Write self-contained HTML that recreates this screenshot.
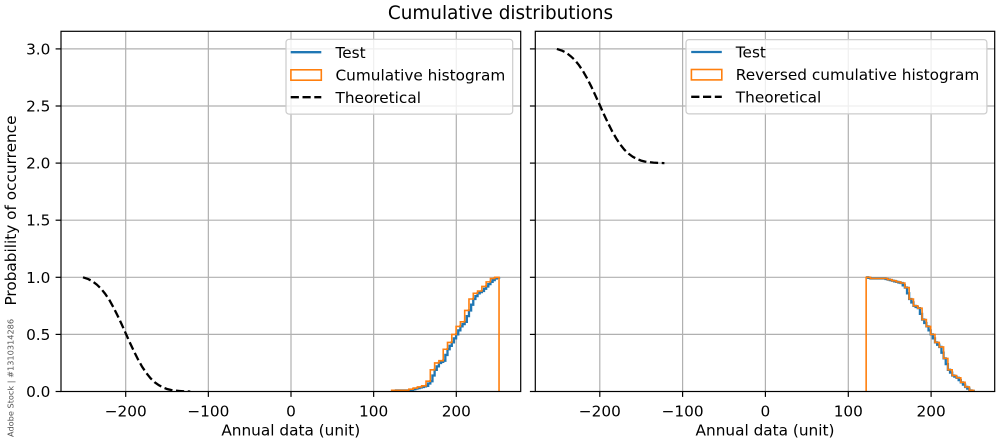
<!DOCTYPE html>
<html>
<head>
<meta charset="utf-8">
<style>
  html, body { margin:0; padding:0; background:#ffffff; }
  svg { display:block; }
  text { font-family: "DejaVu Sans", "Liberation Sans", sans-serif; fill:#000; }
</style>
</head>
<body>
<svg width="1000" height="444" viewBox="0 0 1000 444" xmlns="http://www.w3.org/2000/svg">
  <defs>
    <clipPath id="cl"><rect x="61" y="31.3" width="459.7" height="360.2"/></clipPath>
    <clipPath id="cr"><rect x="535.3" y="31.3" width="459.4" height="360.2"/></clipPath>
  </defs>

  <!-- Title -->
  <text x="500.5" y="18.8" font-size="18.4" text-anchor="middle">Cumulative distributions</text>

  <!-- ================= LEFT AXES ================= -->
  <g stroke="#b0b0b0" stroke-width="1.2" fill="none">
    <line x1="125.7" y1="31.3" x2="125.7" y2="391.5"/>
    <line x1="208.35" y1="31.3" x2="208.35" y2="391.5"/>
    <line x1="291" y1="31.3" x2="291" y2="391.5"/>
    <line x1="373.65" y1="31.3" x2="373.65" y2="391.5"/>
    <line x1="456.3" y1="31.3" x2="456.3" y2="391.5"/>
    <line x1="61" y1="334.4" x2="520.7" y2="334.4"/>
    <line x1="61" y1="277.3" x2="520.7" y2="277.3"/>
    <line x1="61" y1="220.2" x2="520.7" y2="220.2"/>
    <line x1="61" y1="163.1" x2="520.7" y2="163.1"/>
    <line x1="61" y1="106.0" x2="520.7" y2="106.0"/>
    <line x1="61" y1="48.9" x2="520.7" y2="48.9"/>
  </g>

  <g clip-path="url(#cl)" fill="none">
    <!-- Test (ECDF) -->
    <path stroke="#1f77b4" stroke-width="2.3" stroke-linejoin="miter"
      d="M391.67 391.5 H393.82 V390.93 H395.96 V390.36 H410.99 V389.79 H413.14 V389.22 H415.29 V388.65 H417.44 V388.07 H419.58 V387.50 H421.73 V386.93 H423.88 V386.36 H426.03 V385.79 H428.17 V383.51 H430.32 V381.22 H432.47 V375.51 H434.62 V369.80 H436.76 V366.38 H438.91 V362.95 H441.06 V361.81 H443.21 V360.67 H445.35 V354.96 H447.50 V349.25 H449.65 V345.82 H451.79 V342.39 H453.94 V338.40 H456.09 V334.40 H458.24 V330.40 H460.38 V326.41 H462.53 V324.12 H464.68 V321.84 H466.83 V316.13 H468.97 V310.42 H471.12 V304.71 H473.27 V299.00 H475.42 V296.14 H477.56 V293.29 H479.71 V292.15 H481.86 V291.01 H484.01 V288.72 H486.15 V286.44 H488.30 V284.15 H490.45 V281.87 H492.60 V280.16 H494.74 V278.44 H496.89 V277.87 H499.04 V277.30"/>
    <!-- Cumulative histogram -->
    <path stroke="#ff7f0e" stroke-width="1.6"
      d="M391.67 391.5 V390.36 H408.85 V389.22 H413.14 V388.07 H417.44 V386.93 H421.73 V385.79 H426.03 V381.22 H430.32 V369.80 H434.62 V362.95 H438.91 V360.67 H443.21 V349.25 H447.50 V342.39 H451.79 V334.40 H456.09 V326.41 H460.38 V321.84 H464.68 V310.42 H468.97 V299.00 H473.27 V293.29 H477.56 V291.01 H481.86 V286.44 H486.15 V281.87 H490.45 V278.44 H494.74 V277.30 H499.04 V391.5"/>
    <!-- Theoretical -->
    <path stroke="#000" stroke-width="2.3" stroke-dasharray="8.2,3.6"
      d="M83.0 277.3 L88.5 279.2 L92.6 281.4 L96.8 284.6 L100.9 288.5 L105.0 293.6 L109.2 299.7 L113.3 307.1 L117.4 315.2 L121.6 324.1 L125.7 333.3 L129.8 342.5 L134.0 351.4 L138.1 359.6 L142.2 366.9 L146.4 373.1 L150.5 378.2 L154.6 382.2 L158.8 385.2 L162.9 387.4 L167.0 389.0 L171.2 390.0 L175.3 390.6 L179.5 391.0 L183.6 391.3 L190.3 391.5"/>
  </g>

  <!-- left spines -->
  <rect x="61" y="31.3" width="459.7" height="360.2" fill="none" stroke="#000" stroke-width="1.2"/>
  <!-- left ticks -->
  <g stroke="#000" stroke-width="1.2">
    <line x1="125.7" y1="391.5" x2="125.7" y2="396.9"/>
    <line x1="208.35" y1="391.5" x2="208.35" y2="396.9"/>
    <line x1="291" y1="391.5" x2="291" y2="396.9"/>
    <line x1="373.65" y1="391.5" x2="373.65" y2="396.9"/>
    <line x1="456.3" y1="391.5" x2="456.3" y2="396.9"/>
    <line x1="55.6" y1="391.5" x2="61" y2="391.5"/>
    <line x1="55.6" y1="334.4" x2="61" y2="334.4"/>
    <line x1="55.6" y1="277.3" x2="61" y2="277.3"/>
    <line x1="55.6" y1="220.2" x2="61" y2="220.2"/>
    <line x1="55.6" y1="163.1" x2="61" y2="163.1"/>
    <line x1="55.6" y1="106.0" x2="61" y2="106.0"/>
    <line x1="55.6" y1="48.9" x2="61" y2="48.9"/>
  </g>
  <g font-size="15.3" text-anchor="middle">
    <text x="125.7" y="416.6">−200</text>
    <text x="208.35" y="416.6">−100</text>
    <text x="291" y="416.6">0</text>
    <text x="373.65" y="416.6">100</text>
    <text x="456.3" y="416.6">200</text>
  </g>
  <g font-size="15.3" text-anchor="end">
    <text x="50.4" y="397.0">0.0</text>
    <text x="50.4" y="339.9">0.5</text>
    <text x="50.4" y="282.8">1.0</text>
    <text x="50.4" y="225.7">1.5</text>
    <text x="50.4" y="168.6">2.0</text>
    <text x="50.4" y="111.5">2.5</text>
    <text x="50.4" y="54.4">3.0</text>
  </g>
  <text x="290.8" y="435.6" font-size="15.3" text-anchor="middle">Annual data (unit)</text>
  <text transform="translate(15.8,210.5) rotate(-90)" font-size="15.3" text-anchor="middle">Probability of occurrence</text>

  <!-- left legend -->
  <rect x="286" y="39.3" width="226.7" height="74.8" rx="3" ry="3" fill="#fff" fill-opacity="0.8" stroke="#cccccc" stroke-width="1.2"/>
  <line x1="290.7" y1="52.2" x2="321.3" y2="52.2" stroke="#1f77b4" stroke-width="2.3"/>
  <rect x="290.9" y="69.8" width="30.4" height="10.4" fill="none" stroke="#ff7f0e" stroke-width="1.6"/>
  <line x1="290.7" y1="97.2" x2="321.3" y2="97.2" stroke="#000" stroke-width="2.3" stroke-dasharray="8.2,3.6"/>
  <g font-size="15.3">
    <text x="335.5" y="57.8">Test</text>
    <text x="335.5" y="80.4">Cumulative histogram</text>
    <text x="335.5" y="102.8">Theoretical</text>
  </g>

  <!-- ================= RIGHT AXES ================= -->
  <g stroke="#b0b0b0" stroke-width="1.2" fill="none">
    <line x1="599.8" y1="31.3" x2="599.8" y2="391.5"/>
    <line x1="682.6" y1="31.3" x2="682.6" y2="391.5"/>
    <line x1="765.4" y1="31.3" x2="765.4" y2="391.5"/>
    <line x1="848.3" y1="31.3" x2="848.3" y2="391.5"/>
    <line x1="931.1" y1="31.3" x2="931.1" y2="391.5"/>
    <line x1="535.3" y1="334.4" x2="994.7" y2="334.4"/>
    <line x1="535.3" y1="277.3" x2="994.7" y2="277.3"/>
    <line x1="535.3" y1="220.2" x2="994.7" y2="220.2"/>
    <line x1="535.3" y1="163.1" x2="994.7" y2="163.1"/>
    <line x1="535.3" y1="106.0" x2="994.7" y2="106.0"/>
    <line x1="535.3" y1="48.9" x2="994.7" y2="48.9"/>
  </g>

  <g clip-path="url(#cr)" fill="none">
    <!-- Test (CCDF) -->
    <path stroke="#1f77b4" stroke-width="2.3"
      d="M866.15 277.30 H868.30 V277.87 H870.45 V278.44 H885.51 V279.01 H887.66 V279.58 H889.81 V280.16 H891.96 V280.73 H894.11 V281.30 H896.26 V281.87 H898.41 V282.44 H900.57 V283.01 H902.72 V285.29 H904.87 V287.58 H907.02 V293.29 H909.17 V299.00 H911.32 V302.42 H913.47 V305.85 H915.62 V307.00 H917.77 V308.13 H919.92 V313.84 H922.08 V319.55 H924.23 V322.98 H926.38 V326.41 H928.53 V330.40 H930.68 V334.40 H932.83 V338.40 H934.98 V342.39 H937.13 V344.68 H939.28 V346.96 H941.43 V352.67 H943.59 V358.38 H945.74 V364.09 H947.89 V369.80 H950.04 V372.66 H952.19 V375.51 H954.34 V376.65 H956.49 V377.80 H958.64 V380.08 H960.79 V382.36 H962.94 V384.65 H965.10 V386.93 H967.25 V388.65 H969.40 V390.36 H971.55 V390.93 H973.70 V391.5"/>
    <!-- Reversed cumulative histogram -->
    <path stroke="#ff7f0e" stroke-width="1.6"
      d="M866.15 391.5 V277.30 H870.45 V278.44 H887.66 V279.58 H891.96 V280.73 H896.26 V281.87 H900.57 V283.01 H904.87 V287.58 H909.17 V299.00 H913.47 V305.85 H917.77 V308.13 H922.08 V319.55 H926.38 V326.41 H930.68 V334.40 H934.98 V342.39 H939.28 V346.96 H943.59 V358.38 H947.89 V369.80 H952.19 V375.51 H956.49 V377.80 H960.79 V382.36 H965.10 V386.93 H969.40 V390.36 H973.70 V391.5"/>
    <!-- Theoretical -->
    <path stroke="#000" stroke-width="2.3" stroke-dasharray="8.2,3.6"
      d="M556.9 48.9 L562.4 50.8 L566.6 53.0 L570.7 56.2 L574.9 60.1 L579.0 65.2 L583.1 71.3 L587.3 78.7 L591.4 86.8 L595.5 95.7 L599.7 104.9 L603.8 114.1 L608.0 123.0 L612.1 131.2 L616.3 138.5 L620.4 144.7 L624.5 149.8 L628.7 153.8 L632.8 156.8 L637.0 159.0 L641.1 160.6 L645.2 161.6 L649.4 162.2 L653.5 162.6 L657.7 162.9 L664.4 163.1"/>
  </g>

  <!-- right spines -->
  <rect x="535.3" y="31.3" width="459.4" height="360.2" fill="none" stroke="#000" stroke-width="1.2"/>
  <g stroke="#000" stroke-width="1.2">
    <line x1="599.8" y1="391.5" x2="599.8" y2="396.9"/>
    <line x1="682.6" y1="391.5" x2="682.6" y2="396.9"/>
    <line x1="765.4" y1="391.5" x2="765.4" y2="396.9"/>
    <line x1="848.3" y1="391.5" x2="848.3" y2="396.9"/>
    <line x1="931.1" y1="391.5" x2="931.1" y2="396.9"/>
    <line x1="529.9" y1="391.5" x2="535.3" y2="391.5"/>
    <line x1="529.9" y1="334.4" x2="535.3" y2="334.4"/>
    <line x1="529.9" y1="277.3" x2="535.3" y2="277.3"/>
    <line x1="529.9" y1="220.2" x2="535.3" y2="220.2"/>
    <line x1="529.9" y1="163.1" x2="535.3" y2="163.1"/>
    <line x1="529.9" y1="106.0" x2="535.3" y2="106.0"/>
    <line x1="529.9" y1="48.9" x2="535.3" y2="48.9"/>
  </g>
  <g font-size="15.3" text-anchor="middle">
    <text x="599.8" y="416.6">−200</text>
    <text x="682.6" y="416.6">−100</text>
    <text x="765.4" y="416.6">0</text>
    <text x="848.3" y="416.6">100</text>
    <text x="931.1" y="416.6">200</text>
  </g>
  <text x="765" y="435.6" font-size="15.3" text-anchor="middle">Annual data (unit)</text>

  <!-- right legend -->
  <rect x="686" y="39.6" width="300.9" height="74.3" rx="3" ry="3" fill="#fff" fill-opacity="0.8" stroke="#cccccc" stroke-width="1.2"/>
  <line x1="691.2" y1="52.0" x2="721.8" y2="52.0" stroke="#1f77b4" stroke-width="2.3"/>
  <rect x="691.4" y="69.5" width="30.4" height="10.4" fill="none" stroke="#ff7f0e" stroke-width="1.6"/>
  <line x1="691.2" y1="96.8" x2="721.8" y2="96.8" stroke="#000" stroke-width="2.3" stroke-dasharray="8.2,3.6"/>
  <g font-size="15.3">
    <text x="735.8" y="57.5">Test</text>
    <text x="735.8" y="80.1">Reversed cumulative histogram</text>
    <text x="735.8" y="102.5">Theoretical</text>
  </g>

  <!-- side watermark id -->
  <text transform="translate(13.5,437) rotate(-90)" font-size="8.2" fill="#555" style="fill:#555" font-family="Liberation Sans, sans-serif">Adobe Stock | #1310314286</text>
</svg>
</body>
</html>
